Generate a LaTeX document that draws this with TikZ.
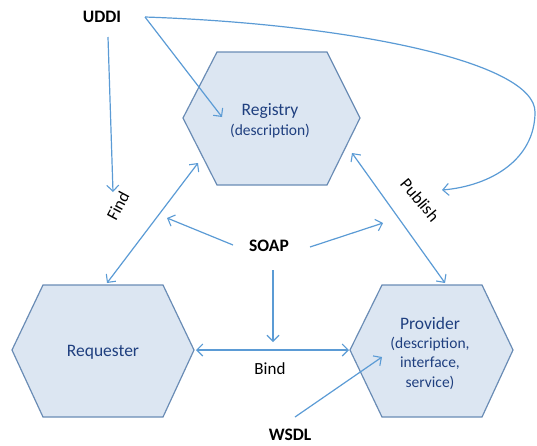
\documentclass[tikz,border=0pt]{standalone}
\usepackage{fontspec}
\setmainfont{Carlito}
\usetikzlibrary{arrows.meta}
\definecolor{hexfill}{HTML}{DCE6F2}
\definecolor{hexline}{HTML}{6A8CB5}
\definecolor{hextext}{HTML}{1F3F7F}
\definecolor{arr}{HTML}{5B9BD5}
\begin{document}
\begin{tikzpicture}[x=1pt,y=-1pt,
  hex/.style={draw=hexline, fill=hexfill, line width=1.2pt, line join=miter},
  tipb/.tip={Straight Barb[length=6pt,width=12pt,line width=1.1pt]},
  conn/.style={draw=arr, line width=1.2pt, -tipb},
  biconn/.style={draw=arr, line width=1.2pt, tipb-tipb},
  lbl/.style={font=\fontsize{17.5}{20}\selectfont\bfseries, text=black, inner sep=0pt},
  plain/.style={font=\fontsize{17}{20}\selectfont, text=black, inner sep=0pt},
  main/.style={font=\fontsize{17.5}{20}\selectfont, text=hextext, inner sep=0pt},
  sub/.style={font=\fontsize{15.5}{20}\selectfont, text=hextext, inner sep=0pt, align=center}
]
\useasboundingbox (0,0) rectangle (537,445);
% hexagons
\draw[hex] (183,118) -- (217,52) -- (327,52) -- (360,118) -- (327,185) -- (217,185) -- cycle;
\draw[hex] (12,350) -- (43,285) -- (163,285) -- (194,350) -- (163,417) -- (43,417) -- cycle;
\draw[hex] (350,350) -- (382,285) -- (482,285) -- (513,350) -- (482,417) -- (382,417) -- cycle;
% hexagon texts
\node[main] (registry) at (270,111) {Registry};
\node[sub] (regdesc) at (270,131) {(description)};
\node[main] (requester) at (103,352) {Requester};
\node[main] (provider) at (430,323) {Provider};
\node[sub, font=\fontsize{15.5}{19.5}\selectfont] (provdesc) at (430,363) {(description,\\interface,\\service)};
% labels
\node[lbl] (uddi) at (102,17) {UDDI};
\node[lbl] (soap) at (269,246) {SOAP};
\node[lbl] (wsdl) at (290,435) {WSDL};
\node[plain] (bind) at (270,369) {Bind};
\node[plain, rotate=62] (find) at (118,206) {Find};
\node[plain, rotate=-50] (publish) at (420,200) {Publish};
% anchor coordinates
\coordinate (uddiA) at (108,37);
\coordinate (uddiB) at (145,17);
\coordinate (findT) at (113,192);
\coordinate (regT) at (222,117);
\coordinate (pubT) at (442,190);
\coordinate (regSW) at (198,163);
\coordinate (reqN) at (107,283);
\coordinate (regSE) at (352,153);
\coordinate (provN) at (445,283);
\coordinate (soapL) at (233,245);
\coordinate (soapR) at (310,247);
\coordinate (soapD) at (273,270);
\coordinate (soapLT) at (167,218);
\coordinate (soapRT) at (383,223);
\coordinate (bindT) at (273,342);
\coordinate (reqE) at (196,350);
\coordinate (provW) at (349,350);
\coordinate (wsdlS) at (295,417);
\coordinate (provT) at (382,357);
% connectors
\draw[conn] (uddiA) -- (findT);
\draw[conn] (uddiB) -- (regT);
\draw[conn] (uddiB) .. controls (350,24) and (535,62) .. (535,112) .. controls (535,160) and (490,186) .. (pubT);
\draw[biconn] (reqN) -- (regSW);
\draw[biconn] (regSE) -- (provN);
\draw[conn] (soapL) -- (soapLT);
\draw[conn] (soapR) -- (soapRT);
\draw[conn] (soapD) -- (bindT);
\draw[biconn] (reqE) -- (provW);
\draw[conn] (wsdlS) -- (provT);
\end{tikzpicture}
\end{document}
